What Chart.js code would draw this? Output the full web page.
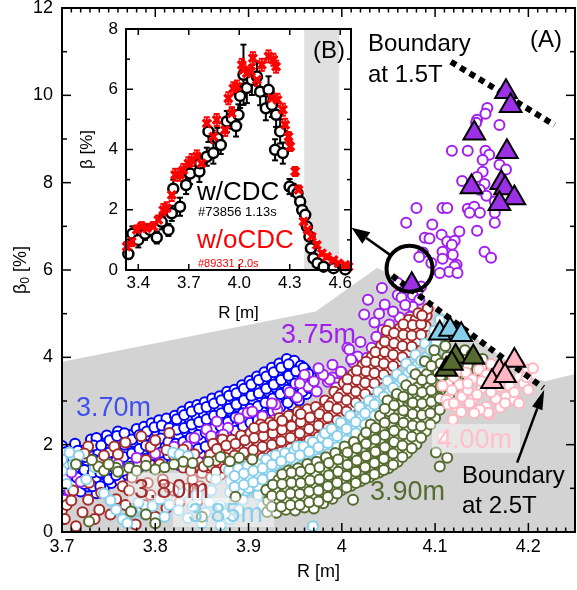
<!DOCTYPE html>
<html><head><meta charset="utf-8">
<script src="https://cdn.jsdelivr.net/npm/chart.js@4.4.1/dist/chart.umd.min.js"></script>
<style>
html,body{margin:0;padding:0;background:#fff;}
#wrap{position:relative;width:577px;height:590px;}
#main{position:absolute;left:0;top:0;}
#inset{position:absolute;left:60px;top:15px;}
</style></head>
<body><div id="wrap"><canvas id="main" width="577" height="590"></canvas><canvas id="inset" width="300" height="310"></canvas></div>
<script>
const FONT = "'Liberation Sans', Arial, sans-serif";
// ---------------- main chart data ----------------
const xTickValues = [3.7, 3.8, 3.9, 4.0, 4.1, 4.2];
const yTickValues = [0, 2, 4, 6, 8, 10, 12];
const grayRegion = [[3.7,3.9],[3.972,5.05],[4.038,6.05],[4.056,5.85],[4.2,3.55],[4.218,3.45],[4.25,3.62]];
const boundary15T = [[4.117,10.77],[4.228,9.32]];
const boundary25T = [[4.054,5.87],[4.216,3.30]];
const blue370 = [
[3.700,1.05],[3.701,1.38],[3.702,1.66],[3.700,1.97],[3.702,0.30],[3.704,0.78],
[3.706,1.22],[3.707,1.52],[3.705,1.83],[3.712,1.08],[3.713,1.41],[3.711,1.71],[3.714,2.02],
[3.720,0.93],[3.719,1.27],[3.721,1.57],[3.722,1.86],[3.728,1.04],[3.729,1.36],[3.727,1.64],[3.730,1.95],[3.731,2.12],
[3.737,0.89],[3.736,1.21],[3.738,1.50],[3.739,1.79],[3.737,2.15],[3.745,1.02],[3.746,1.31],[3.744,1.62],[3.747,1.91],[3.748,2.21],
[3.753,1.12],[3.754,1.43],[3.752,1.71],[3.755,2.01],[3.762,1.18],[3.761,1.52],[3.763,1.79],[3.764,2.09],[3.760,2.30],
[3.770,1.31],[3.771,1.62],[3.769,1.91],[3.772,2.22],[3.778,1.44],[3.779,1.76],[3.777,2.06],[3.780,2.36],
[3.786,1.52],[3.787,1.81],[3.785,2.12],[3.788,2.41],[3.794,1.61],[3.795,1.92],[3.793,2.21],[3.796,2.49],
[3.802,1.72],[3.803,2.01],[3.801,2.31],[3.804,2.56],[3.810,1.66],[3.811,1.96],[3.809,2.26],[3.812,2.60],
[3.818,1.58],[3.819,1.86],[3.817,2.16],[3.820,2.45],[3.821,2.66],[3.826,1.53],[3.827,1.89],[3.825,2.21],[3.828,2.51],[3.829,2.76],
[3.834,1.70],[3.835,2.01],[3.833,2.31],[3.836,2.61],[3.837,2.86],[3.842,1.76],[3.843,2.06],[3.841,2.36],[3.844,2.66],[3.845,2.91],
[3.850,1.81],[3.851,2.11],[3.849,2.41],[3.852,2.71],[3.853,2.97],[3.858,1.86],[3.859,2.16],[3.857,2.46],[3.860,2.76],[3.861,3.06],
[3.866,1.96],[3.867,2.26],[3.865,2.56],[3.868,2.86],[3.869,3.11],[3.874,2.06],[3.875,2.36],[3.873,2.66],[3.876,2.96],[3.877,3.21],
[3.882,2.16],[3.883,2.46],[3.881,2.76],[3.884,3.06],[3.885,3.26],[3.890,2.26],[3.891,2.56],[3.889,2.86],[3.892,3.11],[3.893,3.36],
[3.898,2.36],[3.899,2.61],[3.897,2.91],[3.900,3.21],[3.901,3.46],[3.906,2.41],[3.907,2.71],[3.905,3.01],[3.908,3.31],[3.909,3.56],
[3.914,2.51],[3.915,2.81],[3.913,3.11],[3.916,3.41],[3.917,3.66],[3.922,2.61],[3.923,2.91],[3.921,3.21],[3.924,3.51],[3.925,3.76],
[3.930,2.71],[3.931,3.01],[3.929,3.31],[3.932,3.61],[3.933,3.86],[3.938,2.81],[3.939,3.11],[3.937,3.41],[3.940,3.71],[3.941,3.96],
[3.946,2.91],[3.947,3.21],[3.945,3.51],[3.948,3.76],[3.949,3.92],[3.954,3.01],[3.955,3.31],[3.953,3.56],[3.956,3.81],
[3.962,3.16],[3.963,3.46],[3.961,3.71],[3.968,3.36],[3.967,3.56],
[3.703,1.20],[3.703,1.52],[3.703,1.82],[3.716,1.25],[3.716,1.55],[3.717,1.86],[3.724,1.10],[3.724,1.42],[3.725,1.72],[3.733,1.05],
[3.733,1.36],[3.734,1.66],[3.734,1.98],[3.741,1.05],[3.741,1.36],[3.742,1.66],[3.742,1.98],[3.750,1.20],[3.750,1.50],[3.751,1.82],
[3.751,2.10],[3.758,1.30],[3.758,1.62],[3.759,1.92],[3.759,2.20],[3.766,1.40],[3.766,1.72],[3.767,2.00],[3.767,2.26],[3.774,1.50],
[3.775,1.80],[3.775,2.12],[3.782,1.58],[3.783,1.90],[3.783,2.22],[3.790,1.68],[3.790,1.98],[3.791,2.30],[3.798,1.76],[3.798,2.08],
[3.799,2.40],[3.806,1.82],[3.806,2.14],[3.807,2.44],[3.814,1.76],[3.814,2.06],[3.815,2.38],[3.822,1.72],[3.822,2.02],[3.823,2.34],
[3.823,2.58],[3.830,1.70],[3.830,2.06],[3.831,2.38],[3.831,2.68],[3.838,1.86],[3.838,2.16],[3.839,2.46],[3.839,2.76],[3.846,1.90],
[3.846,2.22],[3.847,2.52],[3.847,2.82],[3.854,1.96],[3.854,2.28],[3.855,2.58],[3.855,2.86],[3.862,2.06],[3.862,2.36],[3.863,2.66],
[3.863,2.94],[3.870,2.12],[3.870,2.42],[3.871,2.72],[3.871,3.02],[3.878,2.22],[3.878,2.52],[3.879,2.82],[3.879,3.12],[3.886,2.32],
[3.886,2.62],[3.887,2.92],[3.887,3.18],[3.894,2.42],[3.894,2.72],[3.895,3.02],[3.895,3.28],[3.902,2.50],[3.902,2.82],[3.903,3.12],
[3.903,3.38],[3.910,2.56],[3.910,2.88],[3.911,3.18],[3.911,3.48],[3.918,2.66],[3.918,2.96],[3.919,3.28],[3.919,3.56],[3.926,2.76],
[3.926,3.06],[3.927,3.38],[3.927,3.66],[3.934,2.86],[3.934,3.16],[3.935,3.48],[3.935,3.76],[3.942,2.96],[3.942,3.26],[3.943,3.58],
[3.943,3.84],[3.950,3.08],[3.950,3.40],[3.951,3.68],[3.958,3.22],[3.958,3.52],[3.959,3.76],[3.965,3.30],[3.964,3.62]];
const purple375 = [
[4.156,9.71],[4.154,9.58],[4.145,9.44],[4.144,9.37],[4.169,9.32],[4.118,8.73],[4.135,8.73],[4.154,8.73],[4.158,8.64],[4.151,8.52],
[4.169,8.41],[4.176,8.30],[4.151,8.25],[4.145,8.13],[4.129,8.04],[4.153,7.97],[4.148,7.84],[4.155,7.70],[4.164,7.57],
[4.108,7.42],[4.113,7.42],[4.080,7.42],[4.135,7.40],[4.142,7.45],[4.148,7.31],[4.137,7.31],[4.164,7.31],[4.164,7.08],
[4.069,7.08],[4.097,7.04],[4.107,6.81],[4.089,6.74],[4.126,6.88],[4.145,6.90],[4.094,6.72],[4.113,6.65],[4.121,6.67],[4.118,6.58],
[4.108,6.42],[4.119,6.35],[4.087,6.40],[4.083,6.30],[4.096,6.16],[4.108,6.26],[4.153,6.42],[4.160,6.28],[4.123,6.12],
[4.121,6.08],[4.115,5.96],[4.124,5.93],[4.105,5.93],[4.060,5.70],[4.085,5.62],
[4.081,5.48],[4.043,5.59],[4.028,5.32],[4.046,5.21],[4.024,4.98],[4.060,5.43],[4.064,5.37],[4.076,5.43],[4.083,5.32],[4.076,5.16],
[4.062,4.91],[4.073,4.93],[4.044,4.63],[4.053,4.52],[4.037,4.47],[4.051,4.34],[4.032,4.22],[4.043,4.18],[4.049,4.13],[4.006,4.22],
[4.017,4.02],[4.027,3.99],[4.038,4.06],[4.012,3.88],[4.032,3.83],[4.000,3.65],[3.990,3.54],[3.985,3.44],[3.994,3.42],[4.051,4.75],
[4.008,4.18],[3.990,3.83],[3.987,3.49],[3.994,3.31],[4.030,3.70],[3.999,3.67],[3.964,3.33],[3.973,3.22],[3.952,3.08],
[3.931,2.80],[3.899,2.73],[3.928,2.57],[3.878,2.39],[3.866,2.53],[3.855,2.35],[3.834,1.96],[3.846,1.61],[3.832,1.50],[3.873,2.23],
[3.929,2.92],[3.904,2.76],[3.704,1.27],[3.710,1.36],[3.702,0.74],[3.835,1.61],
[3.960,3.60],[3.955,3.40],[3.944,3.20],[3.925,2.95],[3.915,2.65],[3.890,2.60],[3.860,2.20],[3.842,2.15],[3.820,1.95],[3.800,1.80],
[3.780,1.70],[3.760,1.55],[3.720,1.15],[3.708,0.95],[3.970,3.45],[3.980,3.60],[3.975,3.75],[4.010,3.95],[4.020,4.35],[4.035,4.80],
[4.055,5.05],[4.040,5.00],[4.068,5.20]];
const brown380 = [
[3.700,0.50],[3.715,0.13],[3.728,0.74],[3.729,1.13],[3.728,1.96],[3.740,0.51],[3.747,1.50],[3.756,1.96],[3.769,0.29],[3.779,0.17],
[3.782,0.50],[3.785,2.19],[3.790,1.65],[3.815,2.27],[3.808,1.20],[3.830,1.89],[3.830,1.47],[3.857,1.66],[3.870,2.05],[3.883,1.82],
[3.904,1.66],[3.705,0.62],[3.712,0.95],[3.758,0.75],[3.765,1.05],[3.795,0.85],[3.800,0.35],[3.820,0.95],[3.840,1.20],[3.845,0.70],
[3.760,1.78],[3.775,1.25],[3.805,1.55],[3.820,1.75],[3.850,1.35],[3.795,1.95],
[3.703,0.30],[3.710,0.72],[3.722,0.45],[3.735,0.30],[3.742,0.90],[3.752,0.40],[3.768,0.62],[3.772,0.95],[3.788,0.62],[3.792,1.12],
[3.812,0.55],[3.815,1.02],[3.826,0.68],[3.835,1.00],[3.838,1.40],[3.848,1.05],[3.852,1.50],[3.812,1.88],[3.842,1.78],[3.724,1.80],
[3.745,1.75],[3.768,2.05],[3.800,2.10],
[3.860,1.25],[3.861,1.50],[3.859,1.77],[3.862,2.02],[3.870,1.31],[3.871,1.57],[3.869,1.82],[3.872,2.12],
[3.880,1.36],[3.881,1.62],[3.879,1.87],[3.882,2.11],[3.890,1.42],[3.891,1.66],[3.889,1.92],[3.892,2.21],
[3.900,1.51],[3.901,1.76],[3.899,2.02],[3.902,2.26],[3.910,1.56],[3.911,1.81],[3.909,2.06],[3.912,2.31],[3.913,2.46],
[3.920,1.61],[3.921,1.86],[3.919,2.11],[3.922,2.36],[3.923,2.51],[3.930,1.71],[3.931,1.96],[3.929,2.21],[3.932,2.46],[3.933,2.61],
[3.940,1.76],[3.941,2.01],[3.939,2.26],[3.942,2.51],[3.943,2.66],[3.950,1.86],[3.951,2.11],[3.949,2.36],[3.952,2.61],[3.953,2.76],
[3.960,1.96],[3.961,2.21],[3.959,2.46],[3.962,2.71],[3.963,2.81],[3.970,2.06],[3.971,2.31],[3.969,2.56],[3.972,2.86],
[3.980,2.26],[3.981,2.51],[3.979,2.76],[3.982,3.01],[3.990,2.46],[3.991,2.71],[3.989,2.96],[3.992,3.21],
[4.000,2.66],[4.001,2.91],[3.999,3.16],[4.002,3.41],[4.010,2.86],[4.011,3.11],[4.009,3.36],[4.012,3.61],
[4.020,3.06],[4.021,3.31],[4.019,3.56],[4.022,3.81],[4.030,3.26],[4.031,3.51],[4.029,3.76],[4.032,4.01],
[4.040,3.51],[4.041,3.76],[4.039,4.01],[4.042,4.26],[4.050,3.71],[4.051,3.96],[4.049,4.21],[4.052,4.46],[4.048,4.61],
[4.060,3.91],[4.061,4.16],[4.059,4.41],[4.062,4.66],[4.070,4.11],[4.071,4.36],[4.069,4.61],[4.072,4.86],
[4.080,4.36],[4.081,4.61],[4.079,4.86],[4.082,5.01],[4.090,4.71],[4.091,4.96],[4.092,5.11],
[3.865,1.38],[3.865,1.63],[3.866,1.90],[3.875,1.45],[3.875,1.70],[3.876,1.98],[3.885,1.50],[3.885,1.75],[3.886,2.02],[3.895,1.56],
[3.895,1.82],[3.896,2.10],[3.905,1.62],[3.905,1.88],[3.906,2.15],[3.906,2.38],[3.915,1.70],[3.915,1.95],[3.916,2.20],[3.916,2.40],
[3.925,1.76],[3.925,2.00],[3.926,2.26],[3.926,2.45],[3.935,1.84],[3.935,2.08],[3.936,2.34],[3.936,2.55],[3.945,1.92],[3.945,2.16],
[3.946,2.42],[3.955,2.00],[3.955,2.26],[3.956,2.52],[3.956,2.70],[3.965,2.10],[3.965,2.36],[3.966,2.62],[3.975,2.18],[3.975,2.44],
[3.976,2.70],[3.985,2.38],[3.985,2.62],[3.986,2.88],[3.995,2.56],[3.995,2.82],[3.996,3.08],[4.005,2.76],[4.005,3.02],[4.006,3.28],
[4.006,3.50],[4.015,2.96],[4.015,3.22],[4.016,3.48],[4.016,3.70],[4.025,3.16],[4.025,3.42],[4.026,3.68],[4.026,3.90],[4.035,3.40],
[4.035,3.64],[4.036,3.90],[4.036,4.12],[4.045,3.60],[4.045,3.86],[4.046,4.12],[4.046,4.36],[4.055,3.80],[4.055,4.06],[4.056,4.32],
[4.056,4.56],[4.065,4.00],[4.065,4.26],[4.066,4.52],[4.066,4.76],[4.075,4.24],[4.075,4.50],[4.076,4.74],[4.085,4.52],[4.085,4.76],[4.086,4.96]];
const skyblue385 = [
[3.700,1.66],[3.708,1.82],[3.726,1.20],[3.758,0.51],[3.765,0.29],[3.776,0.44],[3.782,0.67],[3.797,0.59],[3.819,1.82],[3.840,0.59],
[3.854,0.44],[3.894,0.74],[3.904,1.13],[3.911,1.36],[3.969,0.13],[3.700,1.40],[3.712,1.55],[3.735,1.48],[3.745,0.88],[3.810,0.35],
[3.830,0.88],[3.860,0.95],[3.870,0.60],[3.880,0.30],[3.826,1.78],[3.835,1.74],[3.805,0.75],[3.825,0.50],[3.850,0.20],[3.870,0.15],
[3.705,1.10],[3.718,1.75],[3.752,0.72],[3.770,0.20],[3.788,0.40],[3.815,0.62],[3.835,0.32],[3.845,0.85],[3.858,0.68],[3.865,1.20],
[3.875,0.42],[3.890,0.50],[3.898,0.95],[3.910,0.85],[3.915,0.60],
[3.880,0.91],[3.881,1.16],[3.879,1.41],[3.890,0.96],[3.891,1.21],[3.889,1.46],[3.900,1.01],[3.901,1.26],[3.899,1.51],
[3.910,1.06],[3.911,1.31],[3.909,1.56],[3.920,1.16],[3.921,1.41],[3.919,1.66],[3.930,1.26],[3.931,1.51],[3.929,1.76],
[3.940,1.31],[3.941,1.56],[3.939,1.81],[3.950,1.36],[3.951,1.61],[3.949,1.86],[3.952,1.96],[3.960,1.46],[3.961,1.71],[3.959,1.96],
[3.970,1.56],[3.971,1.81],[3.969,2.06],[3.980,1.66],[3.981,1.91],[3.979,2.16],[3.982,2.26],[3.990,1.86],[3.991,2.11],[3.989,2.36],
[4.000,2.01],[4.001,2.26],[3.999,2.51],[4.010,2.16],[4.011,2.41],[4.009,2.66],[4.020,2.36],[4.021,2.61],[4.019,2.86],
[4.030,2.56],[4.031,2.81],[4.029,3.01],[4.040,2.76],[4.041,3.01],[4.039,3.21],[4.050,2.96],[4.051,3.21],[4.049,3.46],
[4.060,3.11],[4.061,3.36],[4.059,3.61],[4.070,3.36],[4.071,3.61],[4.069,3.86],[4.080,3.56],[4.081,3.81],[4.079,4.06],
[4.090,3.76],[4.091,4.01],[4.089,4.31],[4.100,4.11],[4.101,4.36],[4.099,4.61],[4.105,4.86],
[3.885,1.03],[3.885,1.28],[3.895,1.08],[3.895,1.34],[3.905,1.14],[3.905,1.40],[3.915,1.20],[3.915,1.46],[3.925,1.28],[3.925,1.54],
[3.935,1.36],[3.935,1.62],[3.945,1.44],[3.945,1.70],[3.955,1.50],[3.955,1.76],[3.965,1.58],[3.965,1.84],[3.975,1.68],[3.975,1.94],
[3.985,1.78],[3.985,2.04],[3.995,1.94],[3.995,2.20],[4.005,2.10],[4.005,2.36],[4.015,2.26],[4.015,2.52],[4.025,2.46],[4.025,2.72],
[4.035,2.66],[4.035,2.92],[4.045,2.86],[4.045,3.10],[4.055,3.04],[4.055,3.30],[4.065,3.24],[4.065,3.50],[4.075,3.46],[4.075,3.72],
[4.085,3.66],[4.085,3.92],[4.095,3.90],[4.095,4.16]];
const olive390 = [
[3.739,1.50],[3.745,1.40],[3.758,1.47],[3.800,1.43],[3.830,1.61],[3.857,1.61],[3.729,0.24],[3.774,0.47],[3.904,1.66],[3.886,0.81],
[3.732,1.65],[3.760,1.38],[3.772,1.47],[3.790,1.52],[3.810,1.48],[3.840,1.58],[3.870,1.72],[3.890,1.70],[3.790,0.40],[3.800,0.20],[3.850,0.35],
[3.715,1.55],[3.750,1.55],[3.780,1.40],[3.820,1.55],[3.880,1.62],
[3.920,0.46],[3.921,0.71],[3.919,0.96],[3.930,0.44],[3.931,0.69],[3.929,0.94],[3.932,1.19],
[3.940,0.51],[3.941,0.76],[3.939,1.01],[3.942,1.26],[3.943,1.41],[3.950,0.49],[3.951,0.74],[3.949,0.99],[3.952,1.24],[3.953,1.46],
[3.960,0.56],[3.961,0.81],[3.959,1.06],[3.962,1.31],[3.963,1.56],[3.970,0.54],[3.971,0.79],[3.969,1.04],[3.972,1.29],[3.973,1.61],
[3.980,0.66],[3.981,0.91],[3.979,1.16],[3.982,1.41],[3.983,1.71],[3.990,0.76],[3.991,1.01],[3.989,1.26],[3.992,1.51],[3.993,1.81],
[4.000,0.96],[4.001,1.21],[3.999,1.46],[4.002,1.71],[4.003,1.96],[4.010,1.06],[4.011,1.31],[4.009,1.56],[4.012,1.81],[4.013,2.06],
[4.020,1.16],[4.021,1.41],[4.019,1.66],[4.022,1.91],[4.023,2.16],[4.030,1.26],[4.031,1.51],[4.029,1.76],[4.032,2.01],[4.033,2.26],[4.031,2.46],
[4.040,1.36],[4.041,1.61],[4.039,1.86],[4.042,2.11],[4.043,2.36],[4.041,2.66],[4.050,1.46],[4.051,1.71],[4.049,1.96],[4.052,2.21],[4.053,2.46],[4.051,2.76],[4.049,3.01],
[4.060,1.61],[4.061,1.86],[4.059,2.11],[4.062,2.36],[4.063,2.61],[4.061,2.91],[4.059,3.16],[4.070,1.81],[4.071,2.06],[4.069,2.31],[4.072,2.56],[4.073,2.81],[4.071,3.06],[4.069,3.36],
[4.080,2.01],[4.081,2.26],[4.079,2.51],[4.082,2.76],[4.083,3.01],[4.081,3.31],[4.079,3.61],[4.090,2.31],[4.091,2.56],[4.089,2.81],[4.092,3.06],[4.093,3.31],[4.091,3.61],[4.089,3.91],
[4.100,2.61],[4.101,2.86],[4.099,3.11],[4.102,3.36],[4.103,3.66],[4.101,3.96],[4.099,4.16],[4.110,2.96],[4.111,3.21],[4.109,3.46],[4.112,3.71],[4.113,4.01],[4.111,4.26],
[4.120,3.31],[4.121,3.56],[4.119,3.81],[4.122,4.06],[4.130,3.46],[4.131,3.71],[4.129,3.96],[4.132,4.16],[4.140,3.61],[4.141,3.86],[4.139,4.06],[4.150,3.76],[4.151,3.96],
[4.101,1.82],[4.113,1.70],[4.105,1.50],[4.012,0.74],
[3.925,0.58],[3.925,0.83],[3.926,1.08],[3.935,0.58],[3.935,0.83],[3.936,1.10],[3.936,1.32],[3.945,0.62],[3.945,0.88],[3.946,1.13],
[3.946,1.36],[3.955,0.62],[3.955,0.87],[3.956,1.12],[3.956,1.38],[3.965,0.68],[3.965,0.93],[3.966,1.18],[3.966,1.44],[3.975,0.70],
[3.975,0.95],[3.976,1.20],[3.976,1.48],[3.985,0.80],[3.985,1.05],[3.986,1.30],[3.986,1.58],[3.995,0.88],[3.995,1.13],[3.996,1.38],
[3.996,1.66],[4.005,1.02],[4.005,1.28],[4.006,1.54],[4.006,1.82],[4.015,1.12],[4.015,1.38],[4.016,1.64],[4.016,1.92],[4.025,1.22],
[4.025,1.48],[4.026,1.74],[4.026,2.02],[4.026,2.28],[4.035,1.32],[4.035,1.58],[4.036,1.84],[4.036,2.12],[4.036,2.38],[4.045,1.42],
[4.045,1.68],[4.046,1.94],[4.046,2.22],[4.046,2.50],[4.046,2.82],[4.055,1.54],[4.055,1.80],[4.056,2.06],[4.056,2.32],[4.056,2.60],
[4.056,2.90],[4.065,1.72],[4.065,1.98],[4.066,2.24],[4.066,2.50],[4.066,2.78],[4.066,3.10],[4.075,1.92],[4.075,2.18],[4.076,2.44],
[4.076,2.70],[4.076,2.96],[4.076,3.26],[4.085,2.16],[4.085,2.42],[4.086,2.68],[4.086,2.94],[4.086,3.20],[4.086,3.48],[4.095,2.46],
[4.095,2.72],[4.096,2.98],[4.096,3.24],[4.096,3.50],[4.096,3.80],[4.105,2.80],[4.105,3.06],[4.106,3.32],[4.106,3.58],[4.106,3.86],
[4.115,3.14],[4.115,3.40],[4.116,3.66],[4.116,3.92],[4.125,3.40],[4.125,3.66],[4.126,3.92],[4.135,3.56],[4.135,3.82],[4.145,3.70],[4.145,3.94]];
const pink400 = [
[4.126,3.37],[4.133,3.65],[4.140,3.50],[4.147,3.72],[4.155,3.60],[4.129,3.10],[4.112,3.03],[4.123,2.87],[4.140,3.03],[4.155,2.87],
[4.158,2.69],[4.150,3.30],[4.169,3.33],[4.176,3.10],[4.185,3.03],[4.199,3.72],[4.190,3.55],[4.114,2.92],[4.157,2.73],[4.118,3.25],
[4.135,3.25],[4.145,3.15],[4.165,3.05],[4.170,2.85],[4.180,3.35],[4.195,3.40],[4.205,3.75],[4.160,3.85],[4.190,3.85],[4.137,2.95],
[4.148,2.80],[4.120,3.55],[4.108,3.35],[4.175,3.80],[4.128,2.75],[4.108,2.18],[4.119,2.57],
[4.120,2.95],[4.135,3.40],[4.150,3.45],[4.160,3.20],[4.175,2.95],[4.185,3.20],[4.198,3.55],[4.200,3.25],[4.190,2.95],[4.165,3.55],[4.142,2.72]];
const purpleTri = [[4.176,10.08],[4.181,9.76],[4.142,9.13],[4.177,8.71],[4.139,7.90],[4.171,8.00],[4.175,7.88],[4.185,7.65],[4.169,7.52],[4.075,5.66]];
const skyTri = [[4.105,4.55],[4.116,4.64],[4.128,4.52]];
const oliveTri = [[4.112,3.72],[4.122,4.02],[4.141,4.00],[4.118,3.86]];
const pinkTri = [[4.185,3.93],[4.169,3.70],[4.161,3.44],[4.175,3.58]];
// annotation anchors (data units)
const focusCircle = [4.0726, 6.03];
const insetArrowTip = [4.0105, 6.97];
const arrow25Tail = [4.188, 1.59];
const arrow25Tip = [4.217, 3.26];

// ---------------- inset data ----------------
const insetXTicks = [3.4, 3.7, 4.0, 4.3, 4.6];
const insetYTicks = [0, 2, 4, 6, 8];
const insetShade = [4.386, 4.594];
const cdcR = [3.341,3.365,3.400,3.440,3.470,3.510,3.539,3.579,3.599,3.608,3.648,3.684,3.708,3.763,3.767,3.807,3.846,3.817,3.870,3.890,3.926,3.956,3.981,3.995,4.005,4.025,4.045,4.075,4.105,4.124,4.158,4.174,4.194,4.219,4.213,4.243,4.259,4.299,4.322,4.346,4.362,4.374,4.392,4.402,4.417,4.426,4.441,4.465,4.501,4.560,4.630];
const cdcBeta = [0.53,1.20,1.00,1.20,1.33,1.08,1.60,1.33,1.88,2.70,2.10,2.82,3.20,3.27,3.54,3.76,3.88,4.60,4.37,4.15,4.93,5.04,4.78,5.15,5.78,6.48,6.04,6.31,6.42,5.92,5.37,5.98,5.48,5.15,3.99,4.60,3.88,2.77,2.66,2.55,2.27,1.99,1.83,1.44,1.11,0.72,0.39,0.22,0.11,0.06,0.02];
const cdcErr = [0.15,0.25,0.25,0.2,0.2,0.2,0.25,0.2,0.25,0.3,0.3,0.3,0.35,0.35,0.3,0.3,0.35,0.35,0.35,0.3,0.35,0.35,0.35,0.35,0.4,1.0,0.5,0.5,0.5,0.45,0.4,0.45,0.4,0.4,0.35,0.4,0.35,0.25,0.2,0.2,0.2,0.2,0.15,0.15,0.1,0.1,0.1,0.05,0.05,0.05,0.05];
const noCdcR = [3.331,3.361,3.391,3.420,3.450,3.489,3.519,3.549,3.569,3.599,3.619,3.648,3.668,3.698,3.718,3.748,3.777,3.807,3.846,3.866,3.916,3.935,3.956,3.986,3.965,4.015,4.025,4.045,4.070,4.081,4.105,4.134,4.174,4.203,4.219,4.194,4.227,4.259,4.273,4.293,4.303,4.332,4.352,4.382,4.406,4.431,4.461,4.491,4.521,4.560,4.590,4.630,4.649];
const noCdcBeta = [0.78,0.94,1.33,1.44,1.38,1.44,1.66,1.99,2.05,2.49,3.16,3.16,3.32,3.54,3.65,3.77,3.54,4.87,4.43,4.98,4.65,5.70,5.20,6.09,6.03,6.81,6.64,6.53,6.59,7.03,6.31,6.81,7.09,6.98,6.75,5.70,5.65,5.32,4.82,4.43,4.10,3.27,2.66,1.61,1.33,1.11,0.83,0.55,0.44,0.33,0.22,0.17,0.11];
const noCdcErr = [0.15,0.15,0.15,0.15,0.15,0.15,0.15,0.2,0.2,0.2,0.2,0.2,0.2,0.2,0.2,0.2,0.2,0.2,0.2,0.2,0.2,0.2,0.2,0.2,0.2,0.2,0.2,0.2,0.2,0.2,0.2,0.2,0.2,0.2,0.2,0.2,0.2,0.2,0.2,0.15,0.15,0.15,0.15,0.1,0.1,0.1,0.1,0.08,0.08,0.06,0.06,0.05,0.05];

// ---------------- helpers ----------------
const pts = a => a.map(p => ({x:p[0], y:p[1]}));
function circles(arr, color, order){
  return {type:'scatter', data:pts(arr), pointStyle:'circle', pointRadius:5, pointBorderWidth:2,
    borderColor:color, backgroundColor:'#fff', pointBackgroundColor:'#fff', pointBorderColor:color, order, clip:0};
}
function tris(arr, fill, order){
  return {type:'scatter', data:pts(arr), pointStyle:'triangle', pointRadius:12.5, pointBorderWidth:2,
    pointBorderColor:'#000', pointBackgroundColor:fill, borderColor:'#000', backgroundColor:fill, order, clip:false};
}
function dotted(arr){
  return {type:'line', data:pts(arr), borderColor:'#000', borderWidth:6, borderDash:[6,5], pointRadius:0, fill:false, order:10, clip:false, tension:0};
}
function arrow(c, x1,y1,x2,y2, hl, hw, lw){
  const dx=x2-x1, dy=y2-y1, L=Math.hypot(dx,dy), ux=dx/L, uy=dy/L;
  const bx=x2-ux*hl, by=y2-uy*hl;
  c.lineWidth=lw; c.strokeStyle='#000'; c.fillStyle='#000';
  c.beginPath(); c.moveTo(x1,y1); c.lineTo(bx,by); c.stroke();
  c.beginPath(); c.moveTo(x2,y2); c.lineTo(bx-uy*hw, by+ux*hw); c.lineTo(bx+uy*hw, by-ux*hw); c.closePath(); c.fill();
}
function seg(c,x1,y1,x2,y2){ c.beginPath(); c.moveTo(x1,y1); c.lineTo(x2,y2); c.stroke(); }

const hiddenLabels = [
  {t:'3.80m', x:247, y:445, color:'#A52A2A'},
  {t:'3.85m', x:298, y:424, color:'#87CEEB'}
];
const boxedLabels = [
  {t:'3.80m', x:134, y:498, color:'#A52A2A', box:[128,473,101,30]},
  {t:'3.85m', x:188, y:522, color:'#87CEEB', box:[173,498,101,29]},
  {t:'4.00m', x:437, y:448, color:'#FFC0CB', box:[432,424,88,29]}
];
const plainLabels = [
  {t:'3.70m', x:76, y:416, color:'#4050F0', size:27},
  {t:'3.75m', x:281, y:343, color:'#A020F0', size:27},
  {t:'3.90m', x:370, y:500, color:'#556B2F', size:27},
  {t:'Boundary', x:368, y:51, color:'#000', size:24},
  {t:'at 1.5T', x:368, y:82, color:'#000', size:24},
  {t:'(A)', x:530, y:47, color:'#000', size:24},
  {t:'Boundary', x:462, y:483, color:'#000', size:24},
  {t:'at 2.5T', x:462, y:513, color:'#000', size:24}
];

const mainDeco = {
  id:'mainDeco',
  afterDatasetDraw(chart, args){
    if (args.index !== 0) return;
    const c = chart.ctx; c.save();
    c.font = '27px ' + FONT; c.textBaseline = 'alphabetic'; c.textAlign='left';
    hiddenLabels.forEach(l => { c.fillStyle = l.color; c.fillText(l.t, l.x, l.y); });
    c.restore();
  },
  afterDatasetsDraw(chart){
    const c = chart.ctx, xs = chart.scales.x, ys = chart.scales.y, a = chart.chartArea;
    c.save();
    c.textAlign='left'; c.textBaseline='alphabetic';
    boxedLabels.forEach(l => {
      c.fillStyle='rgba(255,255,255,0.45)'; c.fillRect(l.box[0], l.box[1], l.box[2], l.box[3]);
      c.font='27px '+FONT; c.fillStyle=l.color; c.fillText(l.t, l.x, l.y);
    });
    plainLabels.forEach(l => { c.font = l.size+'px '+FONT; c.fillStyle=l.color; c.fillText(l.t, l.x, l.y); });
    const cx = xs.getPixelForValue(focusCircle[0]), cy = ys.getPixelForValue(focusCircle[1]), r = 23;
    c.lineWidth=4; c.strokeStyle='#000'; c.beginPath(); c.arc(cx,cy,r,0,Math.PI*2); c.stroke();
    const tx = xs.getPixelForValue(insetArrowTip[0]), ty = ys.getPixelForValue(insetArrowTip[1]);
    const d = Math.hypot(tx-cx, ty-cy);
    arrow(c, cx+(tx-cx)/d*r, cy+(ty-cy)/d*r, tx, ty, 18, 7, 2.5);
    arrow(c, xs.getPixelForValue(arrow25Tail[0]), ys.getPixelForValue(arrow25Tail[1]), xs.getPixelForValue(arrow25Tip[0]), ys.getPixelForValue(arrow25Tip[1]), 20, 5.5, 2.5);
    c.strokeStyle='#000'; c.lineWidth=1.5;
    for (let i=0;i<=55;i++){ const p = xs.getPixelForValue(3.7 + i*0.01); const L = (i%10===0)?9:4.5;
      seg(c,p,a.bottom,p,a.bottom-L); seg(c,p,a.top,p,a.top+L); }
    for (let i=0;i<=12;i++){ const p = ys.getPixelForValue(i); const L = (i%2===0)?9:5;
      seg(c,a.left,p,a.left+L,p); seg(c,a.right,p,a.right-L,p); }
    c.lineWidth=2; c.strokeRect(a.left, a.top, a.right-a.left, a.bottom-a.top);
    c.translate(21, (a.top+a.bottom)/2); c.rotate(-Math.PI/2);
    c.fillStyle='#000'; c.textBaseline='middle';
    c.font='18px '+FONT; const w1=c.measureText('β').width, w3=c.measureText(' [%]').width;
    c.font='12px '+FONT; const w2=c.measureText('0').width;
    let x0 = -(w1+w2+w3)/2;
    c.font='18px '+FONT; c.fillText('β', x0, 0);
    c.font='12px '+FONT; c.fillText('0', x0+w1, 5);
    c.font='18px '+FONT; c.fillText(' [%]', x0+w1+w2, 0);
    c.restore();
  }
};

new Chart(document.getElementById('main'), {
  type:'scatter',
  data:{datasets:[
    {type:'line', data:pts(grayRegion), fill:'origin', backgroundColor:'#D3D3D3', borderWidth:0, pointRadius:0, order:100, tension:0, clip:0},
    circles(blue370,'#0000FF',20),
    circles(purple375,'#A020F0',19),
    circles(brown380,'#A52A2A',18),
    circles(skyblue385,'#87CEEB',17),
    circles(olive390,'#556B2F',16),
    circles(pink400,'#FFB6C1',15),
    dotted(boundary15T),
    dotted(boundary25T),
    tris(purpleTri,'#9B30E6',5),
    tris(skyTri,'#87CEEB',4),
    tris(oliveTri,'#556B2F',3),
    tris(pinkTri,'#FFB6C1',2)
  ]},
  options:{
    responsive:false, animation:false, devicePixelRatio:1,
    layout:{autoPadding:false, padding:{top:8,right:2,left:0,bottom:0}},
    plugins:{legend:{display:false}, tooltip:{enabled:false}},
    scales:{
      x:{type:'linear', min:3.7, max:4.25,
        afterBuildTicks:s=>{ s.ticks = xTickValues.map(v=>({value:v})); },
        grid:{display:false, drawTicks:false}, border:{display:false},
        ticks:{autoSkip:false, maxRotation:0, padding:4, color:'#000', font:{size:18, family:FONT},
          callback:v=>String(+(+v).toFixed(2))},
        title:{display:true, text:'R [m]', color:'#000', font:{size:18, family:FONT}, padding:{top:0,bottom:7}},
        afterFit:s=>{ s.height = 58; s.paddingLeft = 0; s.paddingRight = 0; }},
      y:{type:'linear', min:0, max:12,
        afterBuildTicks:s=>{ s.ticks = yTickValues.map(v=>({value:v})); },
        grid:{display:false, drawTicks:false}, border:{display:false},
        ticks:{autoSkip:false, padding:9, color:'#000', font:{size:18, family:FONT}},
        afterFit:s=>{ s.width = 62; s.paddingTop = 0; s.paddingBottom = 0; }}
    }
  },
  plugins:[mainDeco]
});

// ---------------- inset ----------------
const insetTexts = [
  {t:'(B)', x:253, y:43, size:24, color:'#000'},
  {t:'w/CDC', x:137, y:185, size:26, color:'#000'},
  {t:'#73856 1.13s', x:138, y:201, size:13, color:'#000'},
  {t:'w/oCDC', x:137, y:233, size:26, color:'#FF0000'},
  {t:'#89331 2.0s', x:138, y:252, size:11, color:'#FF0000'}
];
const insetDeco = {
  id:'insetDeco',
  beforeDraw(chart){
    const c=chart.ctx, a=chart.chartArea; c.save(); c.fillStyle='#fff';
    c.fillRect(a.left,a.top,a.right-a.left,a.bottom-a.top); c.restore();
  },
  beforeDatasetsDraw(chart){
    const c=chart.ctx, a=chart.chartArea, xs=chart.scales.x, ys=chart.scales.y;
    c.save();
    const s0=xs.getPixelForValue(insetShade[0]), s1=xs.getPixelForValue(insetShade[1]);
    c.fillStyle='#E0E0E0'; c.fillRect(s0,a.top,s1-s0,a.bottom-a.top);
    const bars=(R,B,E,col)=>{ c.strokeStyle=col; c.lineWidth=2;
      R.forEach((r,i)=>{ const px=xs.getPixelForValue(r), p1=ys.getPixelForValue(B[i]+E[i]), p2=ys.getPixelForValue(Math.max(0,B[i]-E[i]));
        seg(c,px,p1,px,p2); seg(c,px-3,p1,px+3,p1); seg(c,px-3,p2,px+3,p2); }); };
    bars(cdcR,cdcBeta,cdcErr,'#000');
    bars(noCdcR,noCdcBeta,noCdcErr,'#FF0000');
    c.restore();
  },
  afterDatasetsDraw(chart){
    const c=chart.ctx, a=chart.chartArea, xs=chart.scales.x, ys=chart.scales.y;
    c.save(); c.strokeStyle='#000'; c.lineWidth=1.5;
    insetXTicks.forEach(v=>{ const p=xs.getPixelForValue(v); seg(c,p,a.bottom,p,a.bottom-6); seg(c,p,a.top,p,a.top+6); });
    for(let i=0;i<=8;i++){ const p=ys.getPixelForValue(i); const L=(i%2===0)?7:4; seg(c,a.left,p,a.left+L,p); seg(c,a.right,p,a.right-L,p); }
    c.lineWidth=2; c.strokeRect(a.left,a.top,a.right-a.left,a.bottom-a.top);
    c.textAlign='left'; c.textBaseline='alphabetic';
    insetTexts.forEach(l=>{ c.font=l.size+'px '+FONT; c.fillStyle=l.color; c.fillText(l.t,l.x,l.y); });
    c.restore();
  }
};
new Chart(document.getElementById('inset'), {
  type:'scatter',
  data:{datasets:[
    {data:cdcR.map((r,i)=>({x:r,y:cdcBeta[i]})), pointStyle:'circle', pointRadius:5, pointBorderWidth:2.5,
      pointBorderColor:'#000', pointBackgroundColor:'#fff', borderColor:'#000', backgroundColor:'#fff', order:2, clip:false},
    {data:noCdcR.map((r,i)=>({x:r,y:noCdcBeta[i]})), pointStyle:'crossRot', pointRadius:5.5, pointBorderWidth:3.5,
      pointBorderColor:'#FF0000', borderColor:'#FF0000', backgroundColor:'#FF0000', order:1, clip:false}
  ]},
  options:{
    responsive:false, animation:false, devicePixelRatio:1,
    layout:{autoPadding:false, padding:{top:14,right:9,left:0,bottom:0}},
    plugins:{legend:{display:false}, tooltip:{enabled:false}},
    scales:{
      x:{type:'linear', min:3.327, max:4.664,
        afterBuildTicks:s=>{ s.ticks = insetXTicks.map(v=>({value:v})); },
        grid:{display:false, drawTicks:false}, border:{display:false},
        ticks:{autoSkip:false, maxRotation:0, padding:3, color:'#000', font:{size:17, family:FONT}, callback:v=>(+v).toFixed(1)},
        title:{display:true, text:'R [m]', color:'#000', font:{size:17, family:FONT}, padding:{top:0,bottom:1}},
        afterFit:s=>{ s.height = 55; s.paddingLeft = 0; s.paddingRight = 0; }},
      y:{type:'linear', min:0, max:8,
        afterBuildTicks:s=>{ s.ticks = insetYTicks.map(v=>({value:v})); },
        grid:{display:false, drawTicks:false}, border:{display:false},
        ticks:{autoSkip:false, padding:8, color:'#000', font:{size:17, family:FONT}},
        title:{display:true, text:'β [%]', color:'#000', font:{size:17, family:FONT}, padding:{top:17,bottom:0}},
        afterFit:s=>{ s.width = 66; s.paddingTop = 0; s.paddingBottom = 0; }}
    }
  },
  plugins:[insetDeco]
});
</script></body></html>
